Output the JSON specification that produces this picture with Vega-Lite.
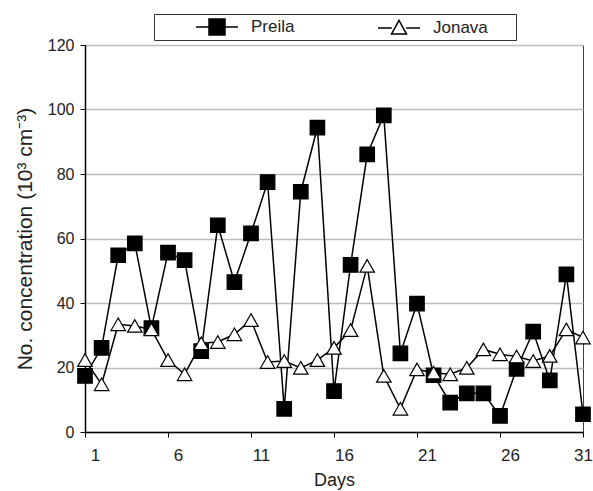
{
  "$schema": "https://vega.github.io/schema/vega-lite/v6.json",
  "width": 498,
  "height": 387,
  "autosize": {"type": "none"},
  "padding": {"left": 85, "top": 45, "right": 10, "bottom": 59},
  "background": "white",
  "config": {
    "font": "Liberation Sans",
    "view": {"stroke": "#404040", "strokeWidth": 1}
  },
  "data": {
    "values": [
      {"day": 1, "series": "Preila", "value": 17.4},
      {"day": 2, "series": "Preila", "value": 26.1},
      {"day": 3, "series": "Preila", "value": 54.8},
      {"day": 4, "series": "Preila", "value": 58.5},
      {"day": 5, "series": "Preila", "value": 32.2},
      {"day": 6, "series": "Preila", "value": 55.6},
      {"day": 7, "series": "Preila", "value": 53.3},
      {"day": 8, "series": "Preila", "value": 25.1},
      {"day": 9, "series": "Preila", "value": 64.1},
      {"day": 10, "series": "Preila", "value": 46.5},
      {"day": 11, "series": "Preila", "value": 61.6},
      {"day": 12, "series": "Preila", "value": 77.5},
      {"day": 13, "series": "Preila", "value": 7.2},
      {"day": 14, "series": "Preila", "value": 74.5},
      {"day": 15, "series": "Preila", "value": 94.4},
      {"day": 16, "series": "Preila", "value": 12.7},
      {"day": 17, "series": "Preila", "value": 51.8},
      {"day": 18, "series": "Preila", "value": 86.1},
      {"day": 19, "series": "Preila", "value": 98.2},
      {"day": 20, "series": "Preila", "value": 24.4},
      {"day": 21, "series": "Preila", "value": 39.8},
      {"day": 22, "series": "Preila", "value": 17.6},
      {"day": 23, "series": "Preila", "value": 9.1},
      {"day": 24, "series": "Preila", "value": 12.0},
      {"day": 25, "series": "Preila", "value": 12.0},
      {"day": 26, "series": "Preila", "value": 5.0},
      {"day": 27, "series": "Preila", "value": 19.6},
      {"day": 28, "series": "Preila", "value": 31.1},
      {"day": 29, "series": "Preila", "value": 16.0},
      {"day": 30, "series": "Preila", "value": 48.9},
      {"day": 31, "series": "Preila", "value": 5.5},
      {"day": 1, "series": "Jonava", "value": 22.3},
      {"day": 2, "series": "Jonava", "value": 14.8},
      {"day": 3, "series": "Jonava", "value": 33.4},
      {"day": 4, "series": "Jonava", "value": 32.9},
      {"day": 5, "series": "Jonava", "value": 31.8},
      {"day": 6, "series": "Jonava", "value": 22.3},
      {"day": 7, "series": "Jonava", "value": 17.9},
      {"day": 8, "series": "Jonava", "value": 27.5},
      {"day": 9, "series": "Jonava", "value": 27.9},
      {"day": 10, "series": "Jonava", "value": 30.3},
      {"day": 11, "series": "Jonava", "value": 34.7},
      {"day": 12, "series": "Jonava", "value": 21.7},
      {"day": 13, "series": "Jonava", "value": 22.0},
      {"day": 14, "series": "Jonava", "value": 19.9},
      {"day": 15, "series": "Jonava", "value": 22.3},
      {"day": 16, "series": "Jonava", "value": 26.1},
      {"day": 17, "series": "Jonava", "value": 31.6},
      {"day": 18, "series": "Jonava", "value": 51.5},
      {"day": 19, "series": "Jonava", "value": 17.4},
      {"day": 20, "series": "Jonava", "value": 7.2},
      {"day": 21, "series": "Jonava", "value": 19.4},
      {"day": 22, "series": "Jonava", "value": 18.4},
      {"day": 23, "series": "Jonava", "value": 17.9},
      {"day": 24, "series": "Jonava", "value": 19.9},
      {"day": 25, "series": "Jonava", "value": 25.6},
      {"day": 26, "series": "Jonava", "value": 24.1},
      {"day": 27, "series": "Jonava", "value": 23.4},
      {"day": 28, "series": "Jonava", "value": 22.0},
      {"day": 29, "series": "Jonava", "value": 23.6},
      {"day": 30, "series": "Jonava", "value": 31.8},
      {"day": 31, "series": "Jonava", "value": 29.3}
    ]
  },
  "encoding": {
    "x": {
      "field": "day",
      "type": "quantitative",
      "scale": {"domain": [1, 31], "nice": false, "zero": false},
      "axis": {
        "title": "Days",
        "values": [1, 6, 11, 16, 21, 26, 31],
        "grid": false,
        "domainColor": "black",
        "domainWidth": 1.5,
        "tickColor": "black",
        "tickSize": 5,
        "labelPadding": 10,
        "labelFontSize": 17,
        "labelColor": "#222",
        "labelOffset": {"condition": {"test": "datum.value == 31", "value": 0}, "value": 10},
        "labelOverlap": false,
        "labelBound": false,
        "labelFlush": false,
        "titleFontSize": 18,
        "titleFontWeight": "normal",
        "titleColor": "#222",
        "titlePadding": 8
      }
    },
    "y": {
      "field": "value",
      "type": "quantitative",
      "scale": {"domain": [0, 120], "nice": false},
      "axis": {
        "title": "No. concentration (10³ cm⁻³)",
        "values": [0, 20, 40, 60, 80, 100, 120],
        "grid": true,
        "gridColor": "#bdbdbd",
        "gridWidth": 1.5,
        "domainColor": "black",
        "domainWidth": 1.5,
        "tickColor": "black",
        "tickSize": 5,
        "labelPadding": 6,
        "labelFontSize": 16,
        "labelColor": "#222",
        "titleFontSize": 21,
        "titleFontWeight": "normal",
        "titleColor": "#222",
        "titlePadding": 12
      }
    }
  },
  "layer": [
    {
      "mark": {"type": "line", "color": "black", "strokeWidth": 1.5},
      "encoding": {"detail": {"field": "series"}}
    },
    {
      "mark": {"type": "point", "filled": true, "stroke": "black", "strokeWidth": 1.2, "size": 210, "opacity": 1},
      "encoding": {
        "shape": {
          "condition": {"test": "datum.series === 'Preila'", "value": "square"},
          "value": "triangle-up"
        },
        "fill": {
          "field": "series",
          "type": "nominal",
          "scale": {"domain": ["Preila", "Jonava"], "range": ["black", "white"]},
          "legend": {
            "title": null,
            "orient": "none",
            "legendX": 69,
            "legendY": -31,
            "direction": "horizontal",
            "strokeColor": "#333",
            "padding": 2,
            "symbolSize": 400,
            "symbolOffset": 50,
            "labelOffset": 23,
            "columnPadding": 43,
            "labelFontSize": 17,
            "labelColor": "#222",
            "symbolStrokeColor": "black",
            "symbolStrokeWidth": 1.5,
            "symbolType": {"expr": "datum.value == 'Preila' ? 'M-2.1,0H-0.8M0.8,0H2.1M-0.8,-0.8H0.8V0.8H-0.8Z' : 'M-2.1,0H-0.72M0.72,0H2.1M0,-0.75L0.75,0.62H-0.75Z'"},
            "labelExpr": "datum.label == 'Jonava' ? datum.label + '\u00a0\u00a0\u00a0\u2800' : datum.label"
          }
        }
      }
    }
  ]
}
